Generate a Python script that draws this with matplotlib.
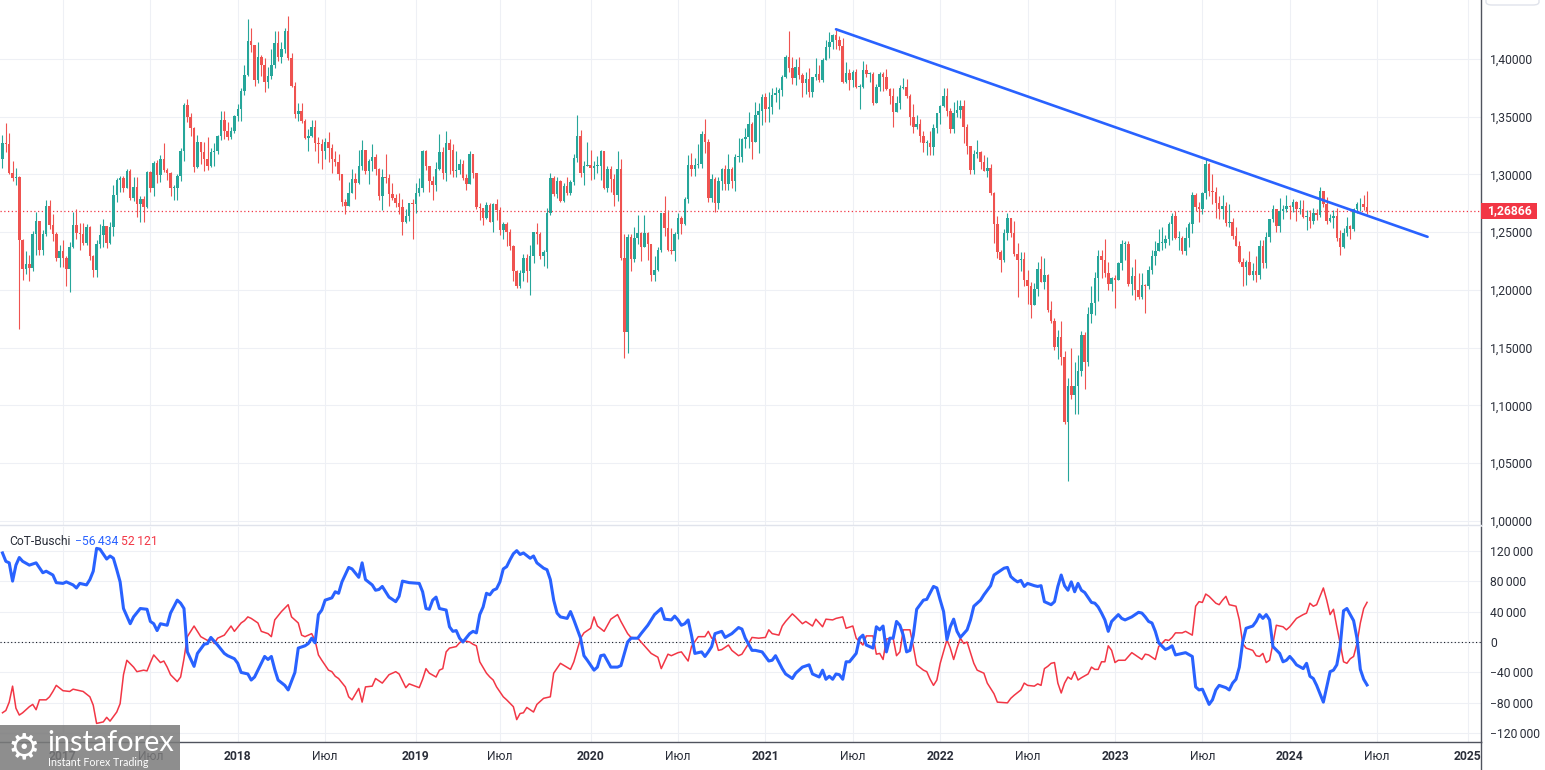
import numpy as np
import matplotlib
matplotlib.use("Agg")
import matplotlib.pyplot as plt
from matplotlib.patches import Rectangle, FancyBboxPatch
from matplotlib.lines import Line2D
import matplotlib.transforms as mtransforms

plt.rcParams['font.family'] = ['Roboto', 'DejaVu Sans']

# ---------------- data: GBP/USD weekly candles ----------------
first_week = "2016-08-29"
first_open = 1.3130

close_2016 = [1.3275, 1.3265, 1.3010, 1.2970, 1.2975, 1.2430, 1.2185, 1.2225, 1.2190, 1.2485,
              1.2595, 1.2350, 1.2480, 1.2725, 1.2560, 1.2480, 1.2280, 1.2340]
high_2016 = [1.3340, 1.3445, 1.3355, 1.3120, 1.3055, 1.2985, 1.2440, 1.2340, 1.2300, 1.2510,
             1.2675, 1.2600, 1.2520, 1.2775, 1.2780, 1.2660, 1.2500, 1.2390]
low_2016 = [1.3060, 1.3195, 1.3000, 1.2945, 1.2910, 1.1660, 1.2085, 1.2135, 1.2080, 1.2160,
            1.2300, 1.2300, 1.2300, 1.2470, 1.2530, 1.2420, 1.2250, 1.2200]

close_2017 = [1.2275, 1.2180, 1.2370, 1.2565, 1.2490, 1.2485, 1.2410, 1.2545, 1.2290, 1.2170,
              1.2395, 1.2475, 1.2550, 1.2405, 1.2545, 1.2820, 1.2950, 1.2965, 1.2885, 1.3030,
              1.2800, 1.2890, 1.2740, 1.2785, 1.2720, 1.3025, 1.2885, 1.3100, 1.2995, 1.3135,
              1.3040, 1.3010, 1.2880, 1.2880, 1.2985, 1.3200, 1.3600, 1.3500, 1.3400, 1.3065,
              1.3285, 1.3190, 1.3135, 1.3075, 1.3190, 1.3200, 1.3330, 1.3475, 1.3375, 1.3320,
              1.3380, 1.3510]
high_2017 = [1.2430, 1.2290, 1.2415, 1.2675, 1.2705, 1.2580, 1.2580, 1.2570, 1.2555, 1.2300,
             1.2430, 1.2570, 1.2615, 1.2550, 1.2590, 1.2905, 1.2965, 1.2990, 1.2990, 1.3050,
             1.3045, 1.2975, 1.2980, 1.2815, 1.2815, 1.3030, 1.3030, 1.3115, 1.3125, 1.3165,
             1.3270, 1.3055, 1.3020, 1.2905, 1.3000, 1.3225, 1.3615, 1.3655, 1.3530, 1.3410,
             1.3340, 1.3260, 1.3285, 1.3320, 1.3225, 1.3270, 1.3340, 1.3550, 1.3550, 1.3455,
             1.3410, 1.3515]
low_2017 = [1.2200, 1.2035, 1.1985, 1.2360, 1.2440, 1.2345, 1.2385, 1.2385, 1.2255, 1.2110,
            1.2115, 1.2360, 1.2375, 1.2365, 1.2400, 1.2470, 1.2765, 1.2845, 1.2845, 1.2880,
            1.2775, 1.2770, 1.2635, 1.2590, 1.2590, 1.2710, 1.2850, 1.2810, 1.2930, 1.2935,
            1.3025, 1.2955, 1.2810, 1.2775, 1.2775, 1.2940, 1.3115, 1.3455, 1.3330, 1.3025,
            1.3060, 1.3090, 1.3030, 1.3040, 1.3065, 1.3075, 1.3180, 1.3300, 1.3305, 1.3300,
            1.3305, 1.3355]

close_2018 = [1.3570, 1.3720, 1.3860, 1.4155, 1.4120, 1.3820, 1.4020, 1.3950, 1.3800, 1.3850,
              1.3950, 1.4140, 1.4015, 1.4090, 1.4240, 1.4010, 1.3770, 1.3520, 1.3550, 1.3465,
              1.3315, 1.3335, 1.3410, 1.3270, 1.3265, 1.3200, 1.3280, 1.3230, 1.3130, 1.3110,
              1.3000, 1.2760, 1.2730, 1.2840, 1.2960, 1.2925, 1.3075, 1.3215, 1.3030, 1.3120,
              1.3150, 1.3045, 1.2810, 1.2975, 1.2970, 1.2830, 1.2800, 1.2750, 1.2720, 1.2585,
              1.2640, 1.2750, 1.2740]
high_2018 = [1.3610, 1.3745, 1.3945, 1.4345, 1.4270, 1.4120, 1.4145, 1.4035, 1.4010, 1.3930,
             1.4090, 1.4245, 1.4245, 1.4145, 1.4270, 1.4375, 1.4050, 1.3800, 1.3620, 1.3620,
             1.3480, 1.3390, 1.3475, 1.3475, 1.3320, 1.3310, 1.3315, 1.3365, 1.3260, 1.3205,
             1.3175, 1.3005, 1.2785, 1.2935, 1.3045, 1.3010, 1.3215, 1.3300, 1.3215, 1.3130,
             1.3260, 1.3175, 1.3055, 1.3045, 1.3175, 1.3000, 1.2925, 1.2830, 1.2840, 1.2790,
             1.2705, 1.2755, 1.2790]
low_2018 = [1.3460, 1.3460, 1.3690, 1.3850, 1.4060, 1.3765, 1.3790, 1.3855, 1.3710, 1.3750,
            1.3830, 1.3925, 1.3985, 1.3965, 1.4050, 1.3990, 1.3760, 1.3485, 1.3460, 1.3445,
            1.3305, 1.3205, 1.3325, 1.3205, 1.3100, 1.3050, 1.3130, 1.3105, 1.3010, 1.3075,
            1.2955, 1.2725, 1.2660, 1.2770, 1.2855, 1.2785, 1.2920, 1.3040, 1.3000, 1.2920,
            1.3030, 1.2995, 1.2775, 1.2695, 1.2925, 1.2725, 1.2775, 1.2720, 1.2660, 1.2475,
            1.2580, 1.2600, 1.2440]

close_2019 = [1.2840, 1.2880, 1.3200, 1.3075, 1.2940, 1.2910, 1.3050, 1.3190, 1.3010, 1.3270,
              1.3210, 1.3030, 1.3040, 1.3090, 1.2970, 1.2920, 1.3180, 1.3010, 1.2720, 1.2710,
              1.2620, 1.2735, 1.2590, 1.2740, 1.2690, 1.2520, 1.2575, 1.2500, 1.2380, 1.2165,
              1.2030, 1.2150, 1.2280, 1.2160, 1.2290, 1.2500, 1.2480, 1.2290, 1.2330, 1.2670,
              1.2970, 1.2830, 1.2940, 1.2770, 1.2900, 1.2840, 1.2935, 1.3140, 1.3330, 1.3015,
              1.3075, 1.3080]
high_2019 = [1.2930, 1.2965, 1.3215, 1.3215, 1.3050, 1.2990, 1.3110, 1.3350, 1.3240, 1.3380,
             1.3305, 1.3260, 1.3200, 1.3130, 1.3125, 1.3000, 1.3200, 1.3155, 1.3010, 1.2750,
             1.2710, 1.2765, 1.2750, 1.2755, 1.2785, 1.2720, 1.2585, 1.2585, 1.2525, 1.2385,
             1.2175, 1.2170, 1.2310, 1.2310, 1.2385, 1.2505, 1.2580, 1.2505, 1.2345, 1.2710,
             1.3010, 1.2990, 1.2975, 1.2955, 1.2925, 1.2980, 1.2950, 1.3180, 1.3515, 1.3385,
             1.3115, 1.3285]
low_2019 = [1.2670, 1.2810, 1.2850, 1.3040, 1.2850, 1.2775, 1.2855, 1.3040, 1.2960, 1.2945,
            1.3000, 1.2980, 1.2980, 1.3000, 1.2955, 1.2865, 1.2955, 1.2970, 1.2705, 1.2605,
            1.2560, 1.2615, 1.2585, 1.2505, 1.2605, 1.2475, 1.2440, 1.2380, 1.2345, 1.2080,
            1.2015, 1.2015, 1.2080, 1.2065, 1.1960, 1.2230, 1.2395, 1.2270, 1.2205, 1.2190,
            1.2650, 1.2815, 1.2795, 1.2765, 1.2765, 1.2820, 1.2820, 1.2910, 1.3105, 1.2975,
            1.2905, 1.3075]

close_2020 = [1.3060, 1.3075, 1.3075, 1.3200, 1.2880, 1.3045, 1.2960, 1.2820, 1.3050, 1.2280,
              1.1640, 1.2455, 1.2265, 1.2450, 1.2490, 1.2370, 1.2490, 1.2400, 1.2130, 1.2170,
              1.2345, 1.2670, 1.2540, 1.2350, 1.2340, 1.2480, 1.2620, 1.2570, 1.2790, 1.3085,
              1.3050, 1.3085, 1.3090, 1.3350, 1.3280, 1.2795, 1.2960, 1.2750, 1.2945, 1.3050,
              1.2915, 1.3045, 1.2945, 1.3150, 1.3150, 1.3305, 1.3320, 1.3440, 1.3285, 1.3515,
              1.3550, 1.3670]
high_2020 = [1.3215, 1.3120, 1.3160, 1.3210, 1.3205, 1.3070, 1.3070, 1.3000, 1.3200, 1.3135,
             1.2485, 1.2485, 1.2485, 1.2545, 1.2650, 1.2500, 1.2645, 1.2500, 1.2375, 1.2295,
             1.2375, 1.2670, 1.2815, 1.2690, 1.2540, 1.2500, 1.2670, 1.2640, 1.2805, 1.3170,
             1.3185, 1.3145, 1.3265, 1.3380, 1.3480, 1.3305, 1.3005, 1.2980, 1.2980, 1.3060,
             1.3085, 1.3175, 1.3065, 1.3175, 1.3315, 1.3315, 1.3400, 1.3540, 1.3455, 1.3625,
             1.3620, 1.3700]
low_2020 = [1.2955, 1.2960, 1.3010, 1.2955, 1.2870, 1.2850, 1.2850, 1.2725, 1.2770, 1.2255,
            1.1410, 1.1450, 1.2165, 1.2245, 1.2400, 1.2250, 1.2390, 1.2260, 1.2075, 1.2075,
            1.2160, 1.2330, 1.2465, 1.2335, 1.2315, 1.2250, 1.2440, 1.2480, 1.2565, 1.2755,
            1.2985, 1.2990, 1.3055, 1.3055, 1.3185, 1.2760, 1.2765, 1.2675, 1.2705, 1.2865,
            1.2865, 1.2865, 1.2880, 1.2855, 1.3105, 1.3105, 1.3230, 1.3225, 1.3135, 1.3290,
            1.3185, 1.3430]

close_2021 = [1.3565, 1.3580, 1.3685, 1.3705, 1.3730, 1.3845, 1.4015, 1.3925, 1.3835, 1.3930,
              1.3860, 1.3790, 1.3830, 1.3710, 1.3840, 1.3870, 1.3820, 1.3990, 1.4100, 1.4150,
              1.4210, 1.4160, 1.4110, 1.3800, 1.3880, 1.3820, 1.3890, 1.3760, 1.3760, 1.3900,
              1.3870, 1.3870, 1.3620, 1.3760, 1.3870, 1.3840, 1.3740, 1.3680, 1.3540, 1.3620,
              1.3750, 1.3760, 1.3680, 1.3500, 1.3410, 1.3440, 1.3330, 1.3270, 1.3270, 1.3240,
              1.3400, 1.3530]
high_2021 = [1.3705, 1.3710, 1.3745, 1.3760, 1.3745, 1.3865, 1.4035, 1.4240, 1.4015, 1.4000,
             1.4015, 1.3880, 1.3885, 1.3920, 1.3840, 1.4010, 1.3950, 1.4005, 1.4165, 1.4235,
             1.4220, 1.4250, 1.4200, 1.4185, 1.3975, 1.3915, 1.3905, 1.3910, 1.3785, 1.3985,
             1.3960, 1.3890, 1.3890, 1.3780, 1.3890, 1.3890, 1.3915, 1.3750, 1.3745, 1.3675,
             1.3775, 1.3835, 1.3830, 1.3700, 1.3610, 1.3515, 1.3480, 1.3375, 1.3300, 1.3375,
             1.3440, 1.3530]
low_2021 = [1.3450, 1.3450, 1.3520, 1.3625, 1.3565, 1.3680, 1.3835, 1.3890, 1.3780, 1.3775,
            1.3830, 1.3670, 1.3700, 1.3670, 1.3670, 1.3820, 1.3800, 1.3800, 1.3990, 1.4010,
            1.4090, 1.4090, 1.4075, 1.3790, 1.3790, 1.3730, 1.3760, 1.3750, 1.3570, 1.3750,
            1.3840, 1.3800, 1.3600, 1.3640, 1.3725, 1.3725, 1.3730, 1.3610, 1.3410, 1.3545,
            1.3570, 1.3740, 1.3660, 1.3425, 1.3355, 1.3395, 1.3280, 1.3195, 1.3165, 1.3165,
            1.3170, 1.3355]

close_2022 = [1.3590, 1.3680, 1.3550, 1.3390, 1.3530, 1.3560, 1.3590, 1.3410, 1.3250, 1.3040,
              1.3180, 1.3190, 1.3110, 1.3030, 1.3060, 1.2840, 1.2570, 1.2330, 1.2260, 1.2490,
              1.2620, 1.2490, 1.2310, 1.2260, 1.2270, 1.2090, 1.2030, 1.1870, 1.2010, 1.2180,
              1.2070, 1.2130, 1.1830, 1.1730, 1.1510, 1.1590, 1.1420, 1.0860, 1.1170, 1.1090,
              1.1170, 1.1300, 1.1610, 1.1380, 1.1790, 1.1890, 1.2100, 1.2290, 1.2260, 1.2150,
              1.2050, 1.2100]
high_2022 = [1.3600, 1.3750, 1.3750, 1.3575, 1.3630, 1.3645, 1.3645, 1.3645, 1.3440, 1.3230,
             1.3215, 1.3300, 1.3200, 1.3165, 1.3150, 1.3090, 1.2850, 1.2640, 1.2350, 1.2525,
             1.2665, 1.2600, 1.2600, 1.2405, 1.2325, 1.2330, 1.2175, 1.2065, 1.2060, 1.2245,
             1.2295, 1.2275, 1.2135, 1.1900, 1.1760, 1.1650, 1.1735, 1.1475, 1.1235, 1.1495,
             1.1380, 1.1440, 1.1645, 1.1640, 1.1855, 1.2030, 1.2155, 1.2345, 1.2345, 1.2445,
             1.2240, 1.2115]
low_2022 = [1.3435, 1.3585, 1.3505, 1.3360, 1.3360, 1.3495, 1.3490, 1.3275, 1.3180, 1.3000,
            1.3000, 1.3145, 1.3050, 1.3030, 1.2975, 1.2825, 1.2410, 1.2280, 1.2155, 1.2245,
            1.2435, 1.2460, 1.2295, 1.1935, 1.2160, 1.2030, 1.1875, 1.1760, 1.1890, 1.1950,
            1.2065, 1.2005, 1.1805, 1.1715, 1.1480, 1.1405, 1.1350, 1.0840, 1.0350, 1.1055,
            1.0925, 1.0925, 1.1255, 1.1145, 1.1340, 1.1710, 1.1780, 1.1900, 1.2105, 1.2110,
            1.2000, 1.1990]

close_2023 = [1.2090, 1.2230, 1.2400, 1.2400, 1.2050, 1.2120, 1.2000, 1.1940, 1.2040, 1.2030,
              1.2170, 1.2290, 1.2340, 1.2410, 1.2410, 1.2440, 1.2570, 1.2640, 1.2450, 1.2450,
              1.2340, 1.2450, 1.2570, 1.2820, 1.2720, 1.2700, 1.2840, 1.3090, 1.2860, 1.2850,
              1.2750, 1.2700, 1.2730, 1.2580, 1.2590, 1.2470, 1.2380, 1.2240, 1.2200, 1.2240,
              1.2130, 1.2160, 1.2130, 1.2380, 1.2230, 1.2460, 1.2610, 1.2700, 1.2550, 1.2680,
              1.2700, 1.2730]
high_2023 = [1.2130, 1.2245, 1.2435, 1.2420, 1.2420, 1.2195, 1.2270, 1.2145, 1.2145, 1.2055,
             1.2205, 1.2345, 1.2425, 1.2525, 1.2545, 1.2475, 1.2585, 1.2665, 1.2680, 1.2510,
             1.2470, 1.2545, 1.2590, 1.2850, 1.2840, 1.2765, 1.2850, 1.3145, 1.3100, 1.3000,
             1.2895, 1.2815, 1.2820, 1.2765, 1.2745, 1.2620, 1.2545, 1.2425, 1.2275, 1.2260,
             1.2340, 1.2235, 1.2290, 1.2430, 1.2430, 1.2505, 1.2615, 1.2735, 1.2700, 1.2795,
             1.2735, 1.2825]
low_2023 = [1.1840, 1.2085, 1.2170, 1.2260, 1.2035, 1.1960, 1.1915, 1.1925, 1.1920, 1.1800,
            1.2010, 1.2135, 1.2220, 1.2360, 1.2345, 1.2365, 1.2385, 1.2435, 1.2445, 1.2350,
            1.2310, 1.2305, 1.2370, 1.2490, 1.2685, 1.2590, 1.2660, 1.2790, 1.2810, 1.2740,
            1.2620, 1.2615, 1.2615, 1.2550, 1.2545, 1.2445, 1.2380, 1.2230, 1.2035, 1.2040,
            1.2125, 1.2090, 1.2070, 1.2095, 1.2190, 1.2190, 1.2415, 1.2585, 1.2500, 1.2500,
            1.2610, 1.2675]

close_2024 = [1.2720, 1.2760, 1.2700, 1.2700, 1.2630, 1.2630, 1.2600, 1.2670, 1.2650, 1.2860,
              1.2740, 1.2600, 1.2620, 1.2640, 1.2450, 1.2370, 1.2490, 1.2550, 1.2530, 1.2700,
              1.2740, 1.2740, 1.2720, 1.26866]
high_2024 = [1.2735, 1.2785, 1.2770, 1.2775, 1.2775, 1.2690, 1.2690, 1.2710, 1.2700, 1.2895,
             1.2840, 1.2805, 1.2660, 1.2690, 1.2710, 1.2515, 1.2535, 1.2635, 1.2560, 1.2710,
             1.2760, 1.2800, 1.2820, 1.2860]
low_2024 = [1.2610, 1.2675, 1.2600, 1.2660, 1.2620, 1.2520, 1.2535, 1.2575, 1.2605, 1.2635,
            1.2715, 1.2575, 1.2585, 1.2540, 1.2425, 1.2300, 1.2365, 1.2465, 1.2445, 1.2510,
            1.2665, 1.2680, 1.2690, 1.2655]

# trend line drawn on the chart (week number, price)
trend_weeks = [248, 424]
trend_prices = [1.4257, 1.2460]

# ---------------- data: CoT indicator (net positions, thousands) ----------------
blue_weeks = [0, 1, 2, 3, 4, 5, 6, 8, 10, 12, 13, 15, 16, 18, 19, 21, 22, 23, 25, 26, 27, 28, 29, 31, 32, 33,
              34, 35, 36, 38, 39, 41, 43, 44, 45, 46, 47, 49, 50, 52, 53, 54, 55, 57, 58, 60, 61, 62, 64, 66,
              67, 69, 70, 71, 73, 74, 75, 77, 78, 79, 80, 81, 82, 84, 85, 87, 88, 90, 91, 92, 93, 94, 95, 96,
              98, 99, 100, 101, 103, 104, 106, 107, 108, 110, 111, 112, 113, 115, 117, 118, 119, 121, 124,
              125, 126, 127, 128, 129, 130, 132, 133, 134, 135, 136, 137, 139, 140, 141, 142, 143, 144, 145,
              146, 147, 148, 149, 150, 151, 152, 153, 154, 155, 157, 158, 159, 161, 162, 163, 164, 165, 166,
              168, 169, 170, 172, 173, 174, 176, 177, 178, 179, 181, 183, 184, 186, 187, 189, 190, 192, 193,
              194, 196, 197, 199, 200, 201, 202, 203, 204, 205, 206, 208, 209, 210, 211, 212, 214, 215, 217,
              219, 220, 221, 223, 224, 226, 228, 229, 230, 232, 233, 235, 236, 238, 240, 241, 243, 244, 245,
              246, 247, 248, 249, 250, 251, 252, 254, 255, 256, 257, 259, 260, 261, 262, 263, 264, 265, 266,
              267, 268, 269, 270, 271, 272, 273, 274, 275, 277, 278, 279, 280, 281, 282, 283, 284, 285, 287,
              288, 289, 291, 292, 294, 295, 296, 298, 299, 300, 301, 302, 303, 304, 305, 307, 308, 309, 310,
              312, 313, 314, 315, 316, 317, 318, 319, 320, 321, 322, 324, 325, 326, 327, 328, 329, 330, 332,
              333, 334, 336, 338, 339, 340, 341, 342, 343, 344, 346, 347, 348, 349, 351, 352, 354, 355, 356,
              357, 358, 359, 360, 361, 362, 364, 365, 366, 367, 368, 369, 370, 372, 373, 374, 375, 376, 377,
              378, 380, 381, 382, 383, 384, 385, 387, 388, 389, 390, 391, 393, 394, 395, 396, 397, 398, 399,
              400, 401, 402, 403, 404, 405, 406]
blue_net = [117, 106, 104, 80, 101, 111, 106, 101, 104, 91, 93, 88, 78, 77, 79, 75, 71, 77, 75, 82, 93, 123,
            122, 109, 113, 110, 95, 79, 44, 24, 33, 44, 43, 27, 24, 15, 24, 22, 38, 55, 51, 44, -13, -32, -15,
            -3, -2, 6, -4, -15, -18, -22, -28, -40, -42, -50, -46, -28, -19, -23, -19, -36, -50, -57, -63, -40,
            -8, -5, -2, 5, -1, 36, 42, 55, 58, 66, 64, 79, 98, 96, 85, 104, 82, 75, 68, 69, 73, 59, 53, 60, 80,
            78, 77, 66, 44, 43, 55, 59, 44, 42, 20, 14, 15, 5, 0, 11, 14, 12, 36, 46, 64, 62, 68, 70, 79, 96,
            99, 108, 116, 120, 115, 117, 110, 113, 104, 97, 95, 82, 55, 38, 33, 31, 40, 29, 5, -18, -24, -37,
            -33, -18, -17, -33, -33, -31, 0, 5, 5, 11, 22, 29, 36, 44, 30, 29, 34, 29, 22, 24, 29, 9, -15, -13,
            -19, -13, -6, 11, 14, 6, 11, 19, 17, 5, -11, -11, -13, -25, -24, -18, -35, -42, -48, -41, -33, -30,
            -42, -46, -37, -49, -45, -49, -42, -43, -49, -26, -26, -15, 5, 9, -4, -8, 20, 16, 21, -13, 5, 5,
            27, 22, 9, -13, -11, 9, 43, 49, 55, 56, 73, 71, 55, 40, 3, 20, 30, 14, 6, 16, 29, 47, 55, 62, 74,
            88, 91, 97, 98, 86, 82, 79, 81, 73, 77, 74, 73, 74, 53, 49, 53, 73, 88, 74, 68, 79, 66, 77, 68, 65,
            52, 51, 46, 38, 29, 14, 27, 36, 31, 29, 33, 39, 38, 33, 27, 25, 14, -1, -10, -8, -5, -17, -15, -14,
            -19, -59, -63, -62, -72, -82, -76, -63, -57, -60, -63, -54, -49, -33, 0, 18, 21, 27, 36, 31, 36,
            29, -6, -15, -26, -24, -19, -24, -30, -35, -28, -45, -48, -57, -79, -59, -39, -37, -30, -6, 41, 44,
            36, 28, 5, -36, -49, -56.434]

red_weeks = [0, 1, 2, 3, 4, 5, 6, 8, 9, 10, 11, 13, 14, 15, 16, 18, 20, 21, 23, 24, 26, 27, 28, 30, 31, 32,
             34, 35, 36, 37, 39, 40, 42, 43, 44, 45, 47, 48, 49, 50, 52, 53, 54, 55, 57, 59, 61, 62, 63, 64,
             66, 68, 69, 71, 72, 73, 74, 76, 77, 79, 80, 81, 83, 85, 86, 88, 89, 90, 91, 92, 93, 94, 95, 97,
             98, 99, 100, 102, 103, 104, 106, 107, 108, 110, 111, 113, 115, 117, 118, 120, 121, 124, 125, 126,
             127, 129, 130, 131, 132, 133, 135, 136, 137, 139, 140, 141, 142, 144, 145, 146, 147, 149, 150,
             152, 153, 154, 155, 156, 158, 159, 161, 163, 164, 166, 169, 170, 172, 173, 175, 176, 177, 179,
             181, 183, 184, 186, 187, 189, 190, 192, 193, 195, 196, 198, 199, 201, 202, 204, 205, 207, 209,
             210, 211, 212, 213, 214, 216, 217, 219, 220, 222, 223, 225, 227, 228, 229, 231, 232, 233, 235,
             236, 238, 239, 241, 242, 244, 245, 247, 248, 250, 251, 253, 254, 256, 257, 259, 260, 261, 262,
             263, 265, 266, 267, 268, 270, 271, 272, 274, 275, 276, 277, 278, 279, 281, 282, 283, 284, 285,
             286, 287, 289, 290, 292, 293, 295, 296, 299, 300, 301, 303, 304, 305, 307, 308, 309, 310, 311,
             312, 313, 314, 315, 316, 317, 318, 319, 320, 321, 323, 324, 325, 326, 327, 328, 329, 330, 331,
             332, 334, 336, 338, 339, 340, 341, 343, 344, 346, 347, 348, 349, 351, 352, 354, 355, 356, 357,
             358, 359, 361, 362, 363, 364, 365, 367, 368, 369, 370, 372, 373, 374, 375, 376, 377, 378, 379,
             381, 382, 383, 385, 387, 388, 389, 390, 391, 392, 393, 394, 395, 396, 397, 398, 399, 400, 401,
             402, 403, 404, 405, 406]
red_net = [-93, -90, -79, -58, -87, -96, -93, -85, -82, -89, -76, -76, -72, -65, -57, -64, -65, -62, -64, -65,
           -72, -83, -107, -105, -99, -104, -92, -81, -43, -24, -33, -39, -37, -38, -27, -17, -27, -25, -33,
           -43, -52, -46, -22, 7, 21, 7, 2, 5, -2, 5, 9, 21, 14, 25, 28, 33, 31, 25, 14, 11, 7, 29, 40, 49,
           33, 25, 9, 7, 9, 11, 2, -17, -24, -37, -39, -45, -48, -59, -72, -76, -61, -79, -59, -58, -48, -54,
           -43, -39, -42, -60, -55, -60, -49, -35, -41, -46, -37, -35, -13, -8, -6, -1, 2, 0, -3, -5, -26,
           -41, -46, -50, -59, -72, -76, -85, -102, -94, -93, -86, -92, -82, -74, -72, -41, -28, -36, -26, 5,
           12, 18, 33, 21, 14, 30, 36, 27, 11, 6, 5, 0, -10, -15, -20, -35, -16, -18, -14, -13, -25, -6, 7,
           7, 14, 5, 5, -11, -10, -4, -11, -18, -16, -2, 6, 5, 6, 16, 11, 9, 21, 27, 37, 33, 24, 27, 21, 30,
           20, 30, 29, 31, 33, 18, 21, 5, -4, 8, 8, -16, -15, -23, 4, 5, -18, -13, 16, 16, -6, -30, -37, -39,
           -49, -57, -50, -28, 3, -8, -23, -8, 5, -2, 0, -28, -37, -41, -54, -68, -79, -80, -74, -70, -63,
           -54, -57, -58, -55, -57, -35, -32, -28, -27, -54, -67, -54, -46, -49, -39, -50, -47, -42, -33, -36,
           -36, -26, -26, -5, -11, -27, -24, -24, -14, -20, -23, -16, -17, -23, -6, 3, 2, 6, 12, 12, 14, 9,
           47, 53, 52, 63, 60, 51, 49, 55, 60, 49, 47, 29, -2, -8, -11, -18, -19, -15, -27, -24, -2, 22, 20,
           16, 20, 31, 36, 38, 51, 47, 49, 60, 71, 55, 36, 43, 20, -2, -26, -28, -22, -19, -2, 25, 44, 52.121]

# time-axis labels
tick_dates = ["2017-01-01", "2017-07-01", "2018-01-01", "2018-07-01", "2019-01-01", "2019-07-01",
              "2020-01-01", "2020-07-01", "2021-01-01", "2021-07-01", "2022-01-01", "2022-07-01",
              "2023-01-01", "2023-07-01", "2024-01-01", "2024-07-01", "2025-01-01"]
tick_labels = ["2017", "Июл", "2018", "Июл", "2019", "Июл", "2020", "Июл", "2021", "Июл",
               "2022", "Июл", "2023", "Июл", "2024", "Июл", "2025"]
price_ticks = [1.00, 1.05, 1.10, 1.15, 1.20, 1.25, 1.30, 1.35, 1.40]
cot_ticks = [-120, -80, -40, 0, 40, 80, 120]

# ---------------- assemble ----------------
closes = np.array(close_2016 + close_2017 + close_2018 + close_2019 + close_2020 +
                  close_2021 + close_2022 + close_2023 + close_2024)
highs = np.array(high_2016 + high_2017 + high_2018 + high_2019 + high_2020 +
                 high_2021 + high_2022 + high_2023 + high_2024)
lows = np.array(low_2016 + low_2017 + low_2018 + low_2019 + low_2020 +
                low_2021 + low_2022 + low_2023 + low_2024)
assert len(closes) == len(highs) == len(lows)
assert len(blue_weeks) == len(blue_net), (len(blue_weeks), len(blue_net))
assert len(red_weeks) == len(red_net), (len(red_weeks), len(red_net))
opens = np.concatenate([[first_open], closes[:-1]])
weeks = np.arange(len(closes))
last_close = closes[-1]

start = np.datetime64(first_week)
tick_weeks = [int(np.ceil((np.datetime64(d) - start).astype(int) / 7.0)) for d in tick_dates]

# ---------------- style ----------------
GREEN = '#26a69a'
RED = '#ef5350'
BLUE_LINE = '#2962ff'
RED_LINE = '#f23645'
GRID = '#eef0f5'
TXT = '#2a2e39'
BORDER = '#50535e'

W, H = 1545, 770
fig = plt.figure(figsize=(W / 100, H / 100), dpi=100)
fig.patch.set_facecolor('white')
R = 1481 / W
ax = fig.add_axes([0, 1 - 525 / H, R, 525 / H])
ax2 = fig.add_axes([0, 1 - 742 / H, R, (742 - 527) / H])

xlim = (-0.74, 439.9)

# ---- price pane ----
col = np.where(closes >= opens, GREEN, RED)
wick_lo = np.minimum(lows, np.minimum(opens, closes))
wick_hi = np.maximum(highs, np.maximum(opens, closes))
ax.vlines(weeks, wick_lo, wick_hi, colors=col, linewidth=0.8, zorder=3)
body = closes - opens
min_body = 0.0007
body_draw = np.where(np.abs(body) < min_body, np.where(body >= 0, min_body, -min_body), body)
ax.bar(weeks, body_draw, bottom=opens, width=0.74, color=col, linewidth=0, zorder=4)

ax.plot(trend_weeks, trend_prices, color=BLUE_LINE, lw=1.9, solid_capstyle='round', zorder=5)
ax.axhline(last_close, color=RED_LINE, lw=0.9, ls=(0, (1, 2)), zorder=2)

ax.set_xlim(*xlim)
ax.set_ylim(0.99647, 1.45104)
ax.set_xticks(tick_weeks)
ax.tick_params(axis='x', length=0, labelbottom=False)
ax.yaxis.tick_right()
ax.set_yticks(price_ticks)
ax.set_yticklabels([f"{v:.5f}".replace('.', ',') for v in price_ticks])
ax.tick_params(axis='y', length=0, pad=6.5, labelsize=8.7, labelcolor=TXT)
ax.grid(True, color=GRID, lw=0.8)
ax.set_axisbelow(True)
for s in ['left', 'top']:
    ax.spines[s].set_visible(False)
ax.spines['right'].set_color(BORDER)
ax.spines['right'].set_linewidth(1.0)
ax.spines['bottom'].set_color('#e0e3eb')
ax.spines['bottom'].set_linewidth(1.0)

# current price label
trans = mtransforms.blended_transform_factory(ax.transAxes, ax.transData)
box_w = 56 / 1481
ax.add_patch(Rectangle((1.0, last_close - 0.0069), box_w, 0.0138, transform=trans,
                       facecolor=RED_LINE, edgecolor='none', clip_on=False, zorder=6))
ax.text(1.0 + box_w / 2, last_close, f"{last_close:.5f}".replace('.', ','), transform=trans,
        ha='center', va='center', color='white', fontsize=8.7, fontweight='bold',
        clip_on=False, zorder=7)

# ---- CoT pane ----
ax2.plot(red_weeks, red_net, color=RED_LINE, lw=1.1, zorder=3)
ax2.plot(blue_weeks, blue_net, color=BLUE_LINE, lw=2.2, zorder=4, solid_joinstyle='round')
ax2.axhline(0, color='#131722', lw=0.8, ls=(0, (1, 2.2)), zorder=2)
ax2.set_xlim(*xlim)
ax2.set_ylim(-131.4, 151.1)
ax2.set_xticks(tick_weeks)
ax2.set_xticklabels(tick_labels)
ax2.tick_params(axis='x', length=0, pad=5.5, labelsize=8.7, labelcolor=TXT)
for lab in ax2.get_xticklabels():
    if lab.get_text().isdigit():
        lab.set_fontweight('bold')
ax2.yaxis.tick_right()
ax2.set_yticks(cot_ticks)
ax2.set_yticklabels([("−" if v < 0 else "") + f"{abs(v) * 1000:,.0f}".replace(',', '\u202f')
                     for v in cot_ticks])
ax2.tick_params(axis='y', length=0, pad=6.5, labelsize=8.7, labelcolor=TXT)
ax2.grid(True, color=GRID, lw=0.8)
ax2.set_axisbelow(True)
for s in ['left', 'top']:
    ax2.spines[s].set_visible(False)
ax2.spines['right'].set_color(BORDER)
ax2.spines['bottom'].set_color(BORDER)
ax2.spines['right'].set_linewidth(1.0)
ax2.spines['bottom'].set_linewidth(1.0)

def fmt_k(v):
    s = f"{abs(v) * 1000:,.0f}".replace(',', '\u202f')
    return ("−" if v < 0 else "") + s

ty = (742 - 541.5) / (742 - 527)
ax2.text(9 / 1481, ty, "CoT-Buschi", transform=ax2.transAxes, color=TXT, fontsize=8.7,
         va='center', ha='left', zorder=6)
ax2.text(75 / 1481, ty, fmt_k(blue_net[-1]), transform=ax2.transAxes, color=BLUE_LINE,
         fontsize=8.7, va='center', ha='left', zorder=6)
ax2.text(121 / 1481, ty, fmt_k(red_net[-1]), transform=ax2.transAxes, color=RED_LINE,
         fontsize=8.7, va='center', ha='left', zorder=6)

# separator line below the panes on the right
fig.add_artist(Line2D([R, R], [0, 1 - 742 / H], transform=fig.transFigure, color=BORDER, lw=1.0))
# small button top right
fig.add_artist(FancyBboxPatch((1486 / W, 1 - 5 / H), 53 / W, 14 / H,
                              boxstyle="round,pad=0,rounding_size=0.004",
                              transform=fig.transFigure, facecolor='white',
                              edgecolor='#e0e3eb', lw=1.0))

# watermark (semi-transparent, the axis labels show faintly through it as in the original)
fig.add_artist(Rectangle((0, 0), 180 / W, 45 / H, transform=fig.transFigure,
                         facecolor='#7b7b7b', edgecolor='none', alpha=0.86, zorder=20))
fig.text(24 / W, 1 - 748 / H, "\u2699", fontsize=26, color='white', ha='center', va='center',
         family=['DejaVu Sans'], zorder=21)
fig.text(47 / W, 1 - 743 / H, "instaforex", fontsize=20.8, color='white', ha='left', va='center',
         family=['Lato', 'DejaVu Sans'], zorder=21)
fig.text(48 / W, 1 - 763 / H, "Instant Forex Trading", fontsize=7.7, color='white', ha='left',
         va='center', family=['Lato', 'DejaVu Sans'], zorder=21)

fig.savefig("out.png", dpi=100, facecolor='white')
